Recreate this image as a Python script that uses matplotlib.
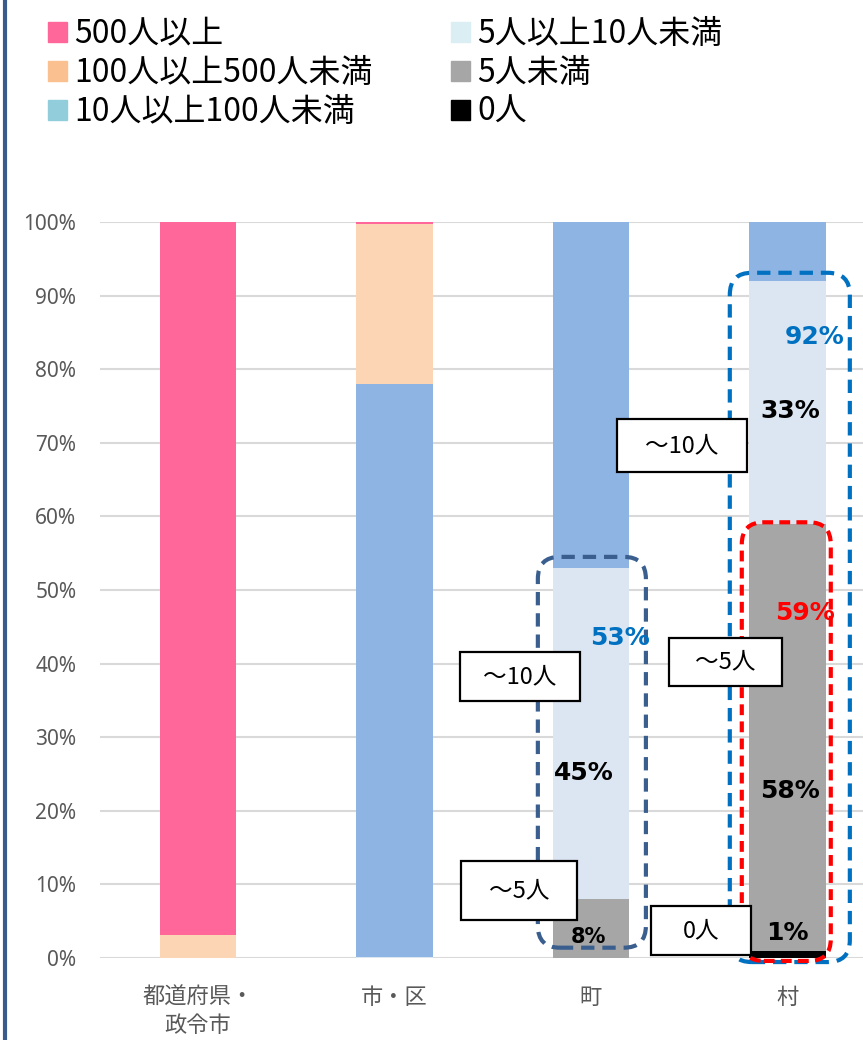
import matplotlib.pyplot as plt
from matplotlib.patches import Patch, Rectangle, FancyBboxPatch
from matplotlib.lines import Line2D

plt.rcParams['font.family'] = ['Noto Sans CJK JP', 'DejaVu Sans']

# ---- data (percent of each group) ----
categories = ['都道府県・\n政令市', '市・区', '町', '村']
series_names = ['0人', '5人未満', '5人以上10人未満', '10人以上100人未満',
                '100人以上500人未満', '500人以上']
zero = [0, 0, 0, 1]
under5 = [0, 0, 8, 58]
five_to_ten = [0, 0.2, 45, 33]
ten_to_100 = [0, 77.8, 47, 8]
hundred_to_500 = [3.1, 21.7, 0, 0]
over500 = [96.9, 0.3, 0, 0]
series = [zero, under5, five_to_ten, ten_to_100, hundred_to_500, over500]

bar_colors = ['#000000', '#A6A6A6', '#DCE6F2', '#8EB4E3', '#FCD5B5', '#FF6699']
legend_colors = ['#000000', '#A6A6A6', '#DAEEF3', '#92CDDC', '#FAC090', '#FF6699']

# ---- figure ----
fig = plt.figure(figsize=(8.63, 10.40), dpi=100)
ax = fig.add_axes([100 / 863, 82 / 1040, 763 / 863, 736 / 1040])

x = list(range(len(categories)))
bottom = [0] * len(categories)
for vals, col in zip(series, bar_colors):
    ax.bar(x, vals, width=0.39, bottom=bottom, color=col, zorder=2)
    bottom = [b + v for b, v in zip(bottom, vals)]

ax.set_xlim(-0.4987, 3.385)
ax.set_ylim(0, 100)
ax.set_yticks(range(0, 101, 10))
ax.set_yticklabels([f'{v}%' for v in range(0, 101, 10)],
                   fontsize=15, color='#595959', family='Noto Sans')
ax.set_xticks(x)
ax.set_xticklabels(categories, fontsize=16, color='#595959', linespacing=1.3)
ax.tick_params(axis='both', length=0)
ax.tick_params(axis='y', pad=17)
ax.tick_params(axis='x', pad=20)
ax.yaxis.grid(True, color='#D9D9D9', lw=1.5)
ax.set_axisbelow(True)
for s in ax.spines.values():
    s.set_visible(False)

# ---- dashed group outlines ----
px_x = 763 / (3.385 + 0.4987)   # pixels per x unit
px_y = 736 / 100                 # pixels per percent
aspect = px_x / px_y


def dashed_box(x0, x1, y0, y1, color, dash):
    box = FancyBboxPatch((x0, y0), x1 - x0, y1 - y0,
                         boxstyle=f'round,pad=0,rounding_size={22 / px_x}',
                         mutation_aspect=aspect, fill=False, ec=color, lw=3,
                         ls=(0, dash), clip_on=False, zorder=4)
    ax.add_patch(box)


dashed_box(1.730, 2.280, 1.4, 54.5, '#3A5F8F', (3.2, 1.9))
dashed_box(2.707, 3.318, -0.55, 93.1, '#0070C0', (3.2, 1.9))
dashed_box(2.768, 3.221, -0.4, 59.2, '#FF0000', (2.6, 1.5))

# ---- callout boxes ----
callouts = [
    ('～10人', 2.463, 69.6, 0.662, 7.2),
    ('～10人', 1.639, 38.2, 0.611, 6.66),
    ('～5人', 2.685, 40.2, 0.575, 6.52),
    ('～5人', 1.634, 9.17, 0.590, 8.0),
    ('0人', 2.56, 3.74, 0.509, 6.66),
]
for label, cx, cy, w, h in callouts:
    ax.add_patch(Rectangle((cx - w / 2, cy - h / 2), w, h, fc='white',
                           ec='black', lw=1.6, clip_on=False, zorder=5))
    ax.text(cx, cy, label, ha='center', va='center', fontsize=17, zorder=6)

# ---- percent labels ----
pct_labels = [
    ('53%', 2.148, 43.5, '#0070C0', 18),
    ('45%', 1.964, 25.1, 'black', 18),
    ('8%', 1.985, 2.85, 'black', 15),
    ('92%', 3.140, 84.4, '#0070C0', 18),
    ('33%', 3.013, 74.3, 'black', 18),
    ('59%', 3.089, 46.9, '#FF0000', 18),
    ('58%', 3.013, 22.7, 'black', 18),
    ('1%', 3.000, 3.4, 'black', 18),
]
for txt, lx, ly, col, fs in pct_labels:
    ax.text(lx, ly, txt, ha='center', va='center', fontsize=fs,
            fontweight='bold', color=col, family='DejaVu Sans', zorder=6)

# ---- legend (two columns) ----
handles = [Patch(color=c, label=n) for n, c in zip(series_names, legend_colors)]
col1 = [handles[5], handles[4], handles[3]]
col2 = [handles[2], handles[1], handles[0]]
for hs, xpos in [(col1, 48 / 863), (col2, 451 / 863)]:
    fig.legend(handles=hs, loc='upper left', bbox_to_anchor=(xpos, 1 - 18 / 1040),
               frameon=False, fontsize=23, handlelength=0.58, handleheight=0.58,
               handletextpad=0.25, labelspacing=0.22, borderpad=0,
               borderaxespad=0)

# left border rule
fig.add_artist(Line2D([5 / 863, 5 / 863], [0, 1], color='#3A5A8C', lw=3,
                      transform=fig.transFigure))

fig.savefig('out.png', dpi=100)
